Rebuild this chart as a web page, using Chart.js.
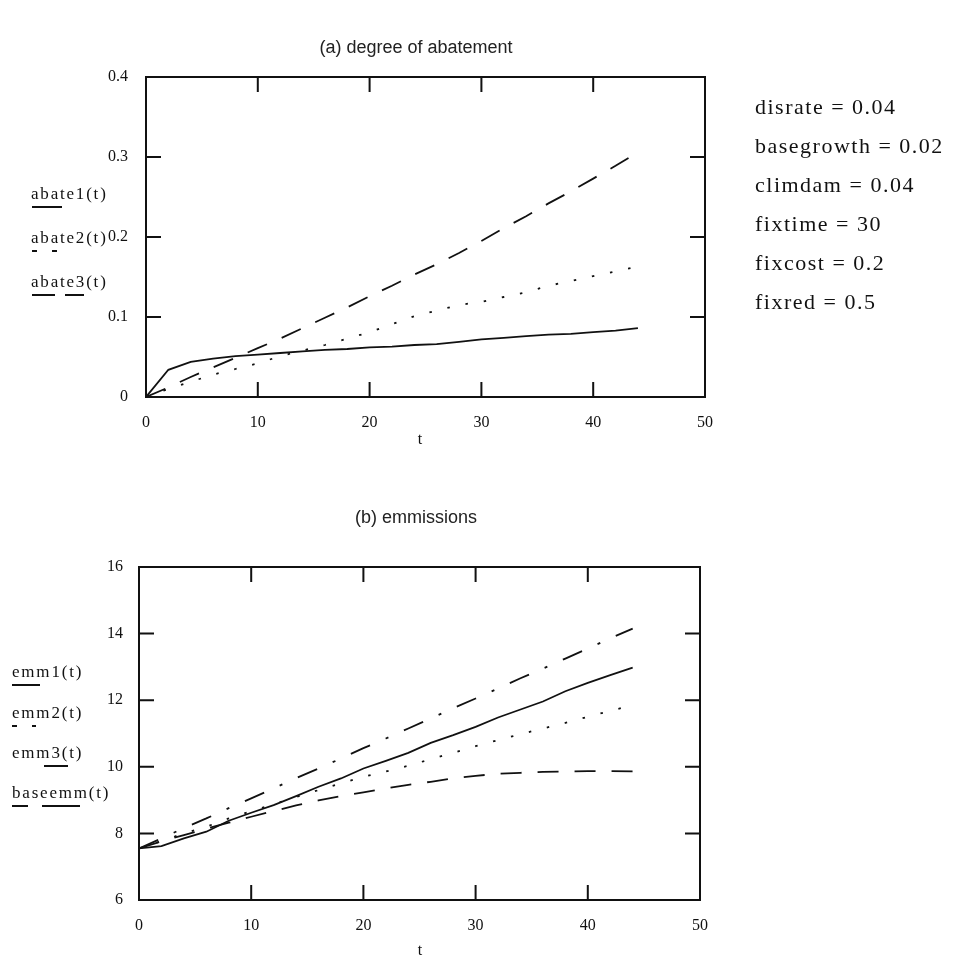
<!DOCTYPE html>
<html>
<head>
<meta charset="utf-8">
<script src="https://cdn.jsdelivr.net/npm/chart.js@4.4.1/dist/chart.umd.min.js"></script>
<style>
  body { margin: 0; background: #fff; }
  #page { position: relative; width: 964px; height: 961px; background: #fff; overflow: hidden; }
  canvas { position: absolute; left: 0; }
  .txt { position: absolute; white-space: nowrap; color: #111; line-height: 1; }
  .title { font-family: "Liberation Sans", Arial, sans-serif; font-size: 18px; color: #222; transform: translate(-50%, -50%); }
  .leg { font-family: "Liberation Serif", serif; font-size: 17px; letter-spacing: 1.8px; transform: translateY(-50%); }
  .par { font-family: "Liberation Serif", serif; font-size: 22px; letter-spacing: 1.5px; transform: translateY(-50%); }
  .axt { font-family: "Liberation Serif", serif; font-size: 16px; transform: translate(-50%, -50%); }
  .seg { position: absolute; height: 2px; background: #111; }
</style>
</head>
<body>
<div id="page">
  <canvas id="chartA" width="964" height="480" style="top:0"></canvas>
  <canvas id="chartB" width="964" height="481" style="top:480px"></canvas>
</div>
<script>
// time steps
const tVals = [0, 2, 4, 6, 8, 10, 12, 14, 16, 18, 20, 22, 24, 26, 28, 30, 32, 34, 36, 38, 40, 42, 44];

// (a) degree of abatement
const abate1 = [0, 0.034, 0.044, 0.048, 0.051, 0.053, 0.055, 0.057, 0.059, 0.060, 0.062, 0.063,
                0.065, 0.066, 0.069, 0.072, 0.074, 0.076, 0.078, 0.079, 0.081, 0.083, 0.086];
const abate2 = [0, 0.010, 0.019, 0.028, 0.035, 0.042, 0.051, 0.058, 0.065, 0.073, 0.081, 0.091,
                0.101, 0.108, 0.115, 0.119, 0.125, 0.131, 0.139, 0.145, 0.151, 0.157, 0.163];
const abate3 = [0, 0.012, 0.025, 0.037, 0.049, 0.061, 0.073, 0.086, 0.099, 0.112, 0.126, 0.139,
                0.153, 0.166, 0.180, 0.195, 0.211, 0.226, 0.242, 0.257, 0.273, 0.289, 0.306];

// (b) emmissions
const emm1 = [7.55, 7.62, 7.85, 8.05, 8.38, 8.62, 8.85, 9.12, 9.40, 9.65, 9.95, 10.18,
              10.42, 10.72, 10.95, 11.20, 11.48, 11.72, 11.96, 12.27, 12.52, 12.75, 12.98];
const emm2 = [7.55, 7.77, 8.00, 8.20, 8.45, 8.67, 8.88, 9.09, 9.30, 9.50, 9.70, 9.86,
              10.03, 10.23, 10.42, 10.62, 10.80, 10.98, 11.15, 11.32, 11.50, 11.68, 11.85];
const emm3 = [7.55, 7.76, 7.95, 8.14, 8.32, 8.50, 8.67, 8.84, 8.99, 9.12, 9.23, 9.35,
              9.46, 9.55, 9.65, 9.73, 9.79, 9.82, 9.85, 9.86, 9.87, 9.87, 9.86];
const baseemm = [7.55, 7.85, 8.16, 8.45, 8.76, 9.05, 9.35, 9.66, 9.95, 10.25, 10.56, 10.85,
                 11.15, 11.45, 11.76, 12.05, 12.35, 12.66, 12.95, 13.25, 13.55, 13.86, 14.15];

// tick labels
const xTicks = [0, 10, 20, 30, 40, 50];
const abateTicks = [0, 0.1, 0.2, 0.3, 0.4];
const emmTicks = [6, 8, 10, 12, 14, 16];

// left-hand labels and parameter list
const abateNames = ['abate1(t)', 'abate2(t)', 'abate3(t)'];
const emmNames = ['emm1(t)', 'emm2(t)', 'emm3(t)', 'baseemm(t)'];
const params = ['disrate = 0.04', 'basegrowth = 0.02', 'climdam = 0.04', 'fixtime = 30', 'fixcost = 0.2', 'fixred = 0.5'];

const SOLID = [], DOTS = [2.5, 16], DASH = [21, 16], DASHDOT = [21, 17, 3, 17];

const page = document.getElementById('page');
function addText(cls, text, x, y) {
    const d = document.createElement('div');
    d.className = 'txt ' + cls;
    d.textContent = text;
    d.style.left = x + 'px';
    d.style.top = y + 'px';
    page.appendChild(d);
}
function addSeg(x1, x2, y) {
    const d = document.createElement('div');
    d.className = 'seg';
    d.style.left = x1 + 'px';
    d.style.width = (x2 - x1) + 'px';
    d.style.top = y + 'px';
    page.appendChild(d);
}

addText('title', '(a) degree of abatement', 416, 47);
addText('title', '(b) emmissions', 416, 517);
addText('axt', 't', 420, 439);
addText('axt', 't', 420, 950);

// abate legend: text + line sample below each
const abateY = [193, 237, 281];
abateNames.forEach((n, i) => addText('leg', n, 31, abateY[i]));
addSeg(32, 62, 206);
addSeg(32, 37, 250); addSeg(52, 57, 250);
addSeg(32, 55, 294); addSeg(65, 84, 294);

const emmY = [671, 712, 752, 792];
emmNames.forEach((n, i) => addText('leg', n, 12, emmY[i]));
addSeg(12, 40, 684);
addSeg(12, 17, 725); addSeg(32, 36, 725);
addSeg(44, 68, 765);
addSeg(12, 28, 805); addSeg(42, 80, 805);

params.forEach((p, i) => addText('par', p, 755, 107 + i * 39));

// box frame with inward ticks on all four sides
const frameTicks = {
    id: 'frameTicks',
    afterDatasetsDraw(chart) {
        const { ctx, chartArea: { left, right, top, bottom }, scales: { x, y } } = chart;
        const len = 15;
        ctx.save();
        ctx.strokeStyle = '#111';
        ctx.lineWidth = 2;
        ctx.strokeRect(left, top, right - left, bottom - top);
        ctx.beginPath();
        x.ticks.forEach(t => {
            if (t.value <= x.min || t.value >= x.max) return;
            const px = x.getPixelForValue(t.value);
            ctx.moveTo(px, bottom); ctx.lineTo(px, bottom - len);
            ctx.moveTo(px, top); ctx.lineTo(px, top + len);
        });
        y.ticks.forEach(t => {
            if (t.value <= y.min || t.value >= y.max) return;
            const py = y.getPixelForValue(t.value);
            ctx.moveTo(left, py); ctx.lineTo(left + len, py);
            ctx.moveTo(right, py); ctx.lineTo(right - len, py);
        });
        ctx.stroke();
        ctx.restore();
    }
};

function series(vals, dash) {
    return {
        data: tVals.map((t, i) => ({ x: t, y: vals[i] })),
        borderColor: '#111',
        borderWidth: 1.8,
        borderDash: dash,
        borderCapStyle: 'butt',
        pointRadius: 0,
        tension: 0,
        fill: false
    };
}

function makeChart(id, datasets, yTicks, yPad, pad) {
    return new Chart(document.getElementById(id), {
        type: 'line',
        data: { datasets: datasets },
        options: {
            responsive: false,
            animation: false,
            events: [],
            layout: { padding: pad },
            plugins: { legend: { display: false }, tooltip: { enabled: false } },
            scales: {
                x: {
                    type: 'linear',
                    min: xTicks[0],
                    max: xTicks[xTicks.length - 1],
                    afterBuildTicks: s => { s.ticks = xTicks.map(v => ({ value: v })); },
                    afterFit: s => { s.height = 30; s.paddingLeft = 0; s.paddingRight = 0; },
                    grid: { display: false },
                    border: { display: false },
                    ticks: { color: '#111', padding: 8, maxRotation: 0, font: { family: 'Liberation Serif', size: 16 } }
                },
                y: {
                    type: 'linear',
                    min: yTicks[0],
                    max: yTicks[yTicks.length - 1],
                    afterBuildTicks: s => { s.ticks = yTicks.map(v => ({ value: v })); },
                    afterFit: s => { s.width = 40; s.paddingTop = 0; s.paddingBottom = 0; },
                    grid: { display: false },
                    border: { display: false },
                    ticks: { color: '#111', padding: yPad, font: { family: 'Liberation Serif', size: 16 } }
                }
            }
        },
        plugins: [frameTicks]
    });
}

makeChart('chartA', [
    series(abate1, SOLID),
    series(abate2, DOTS),
    series(abate3, DASH)
], abateTicks, 10, { left: 106, right: 259, top: 77, bottom: 53 });

makeChart('chartB', [
    series(emm1, SOLID),
    series(emm2, DOTS),
    series(emm3, DASH),
    series(baseemm, DASHDOT)
], emmTicks, 8, { left: 99, right: 264, top: 87, bottom: 31 });
</script>
</body>
</html>
